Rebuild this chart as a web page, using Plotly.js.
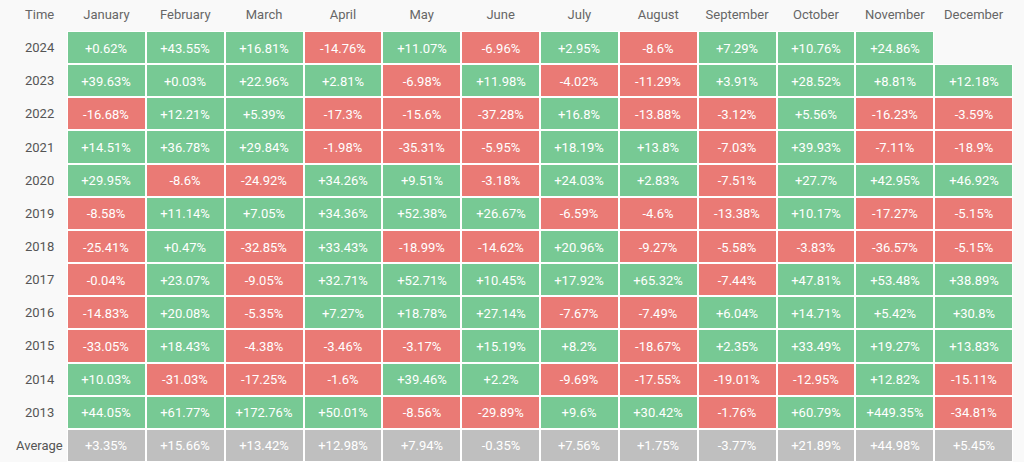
<!DOCTYPE html>
<html>
<head>
<meta charset="utf-8">
<script src="https://cdn.plot.ly/plotly-3.0.1.min.js"></script>
<style>
  html, body { margin: 0; padding: 0; background: #f9f9f9; }
  #chart { width: 1024px; height: 462px; }
</style>
</head>
<body>
<div id="chart"></div>
<script>
const months = ["January","February","March","April","May","June","July","August","September","October","November","December"];
const rowLabels = ["2024","2023","2022","2021","2020","2019","2018","2017","2016","2015","2014","2013","Average"];
const cornerLabel = "Time";

const v2024 = [0.62, 43.55, 16.81, -14.76, 11.07, -6.96, 2.95, -8.6, 7.29, 10.76, 24.86, null];
const v2023 = [39.63, 0.03, 22.96, 2.81, -6.98, 11.98, -4.02, -11.29, 3.91, 28.52, 8.81, 12.18];
const v2022 = [-16.68, 12.21, 5.39, -17.3, -15.6, -37.28, 16.8, -13.88, -3.12, 5.56, -16.23, -3.59];
const v2021 = [14.51, 36.78, 29.84, -1.98, -35.31, -5.95, 18.19, 13.8, -7.03, 39.93, -7.11, -18.9];
const v2020 = [29.95, -8.6, -24.92, 34.26, 9.51, -3.18, 24.03, 2.83, -7.51, 27.7, 42.95, 46.92];
const v2019 = [-8.58, 11.14, 7.05, 34.36, 52.38, 26.67, -6.59, -4.6, -13.38, 10.17, -17.27, -5.15];
const v2018 = [-25.41, 0.47, -32.85, 33.43, -18.99, -14.62, 20.96, -9.27, -5.58, -3.83, -36.57, -5.15];
const v2017 = [-0.04, 23.07, -9.05, 32.71, 52.71, 10.45, 17.92, 65.32, -7.44, 47.81, 53.48, 38.89];
const v2016 = [-14.83, 20.08, -5.35, 7.27, 18.78, 27.14, -7.67, -7.49, 6.04, 14.71, 5.42, 30.8];
const v2015 = [-33.05, 18.43, -4.38, -3.46, -3.17, 15.19, 8.2, -18.67, 2.35, 33.49, 19.27, 13.83];
const v2014 = [10.03, -31.03, -17.25, -1.6, 39.46, 2.2, -9.69, -17.55, -19.01, -12.95, 12.82, -15.11];
const v2013 = [44.05, 61.77, 172.76, 50.01, -8.56, -29.89, 9.6, 30.42, -1.76, 60.79, 449.35, -34.81];
const vAverage = [3.35, 15.66, 13.42, 12.98, 7.94, -0.35, 7.56, 1.75, -3.77, 21.89, 44.98, 5.45];

const rows = [v2024, v2023, v2022, v2021, v2020, v2019, v2018, v2017, v2016, v2015, v2014, v2013, vAverage];
const avgIndex = rows.length - 1;

const fmt = v => v === null ? "" : (v > 0 ? "+" : "") + v + "%";
// colour class: 1 = up (green), -1 = down (red), 0 = average (gray)
const zClass = rows.map((r, i) => r.map(v => v === null ? null : (i === avgIndex ? 0 : (v >= 0 ? 1 : -1))));
const zUnder = rows.map(r => r.map(v => v === null ? null : 1));
const texts = rows.map(r => r.map(fmt));

const RED = "#ea7a75", GRAY = "#bfbfbf", GREEN = "#77c994";

const traces = [
  {
    type: "heatmap", x: months, y: rowLabels, z: zUnder,
    colorscale: [[0, "#ffffff"], [1, "#ffffff"]], showscale: false, hoverinfo: "skip"
  },
  {
    type: "heatmap", x: months, y: rowLabels, z: zClass,
    zmin: -1, zmax: 1,
    colorscale: [[0, RED], [0.33, RED], [0.33, GRAY], [0.67, GRAY], [0.67, GREEN], [1, GREEN]],
    showscale: false, xgap: 2, ygap: 2,
    text: texts, texttemplate: "%{text}",
    textfont: { family: "Roboto, sans-serif", size: 13, color: "#ffffff" },
    hoverinfo: "skip"
  }
];

const annotations = [{
  text: cornerLabel, xref: "paper", yref: "paper", x: -0.029, y: 1, yshift: 17,
  xanchor: "center", yanchor: "middle", showarrow: false,
  font: { family: "Roboto, sans-serif", size: 13, color: "#666666" }
}];
rowLabels.forEach((lbl, i) => annotations.push({
  text: lbl, xref: "paper", yref: "y", x: -0.029, y: i,
  xanchor: "center", yanchor: "middle", showarrow: false,
  font: { family: "Roboto, sans-serif", size: 13, color: "#555555" }
}));

const layout = {
  width: 1024, height: 462,
  margin: { l: 67, r: 11, t: 31, b: 0, pad: 0 },
  paper_bgcolor: "#f9f9f9", plot_bgcolor: "#f9f9f9",
  xaxis: {
    type: "category", side: "top", showgrid: false, zeroline: false, showline: false,
    ticks: "", fixedrange: true, range: [-0.5, months.length - 0.5],
    ticklabelstandoff: 8,
    tickfont: { family: "Roboto, sans-serif", size: 13, color: "#666666" }
  },
  yaxis: {
    type: "category", range: [rowLabels.length - 0.5, -0.5], showgrid: false, zeroline: false,
    showline: false, showticklabels: false, ticks: "", fixedrange: true
  },
  annotations: annotations,
  showlegend: false
};

Plotly.newPlot("chart", traces, layout, { displayModeBar: false, staticPlot: true });
</script>
</body>
</html>
